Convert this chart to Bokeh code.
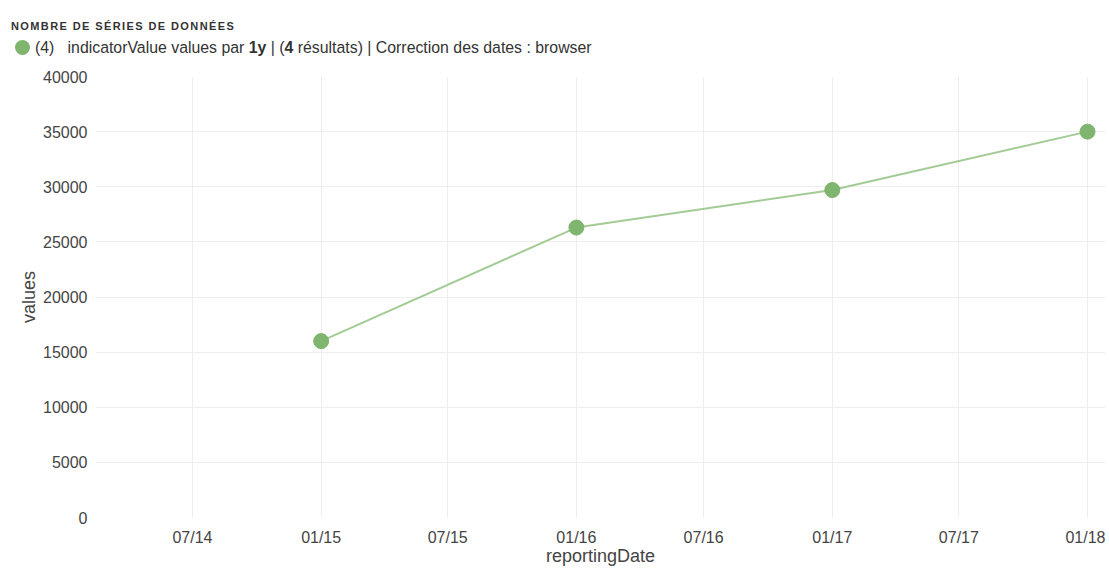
import pandas as pd
from bokeh.plotting import figure
from bokeh.layouts import column
from bokeh.models import Div, ColumnDataSource, FixedTicker, DatetimeTickFormatter, Range1d
from bokeh.embed import file_html
from bokeh.resources import INLINE

# ---- data ----
dates = ["2015-01-01", "2016-01-01", "2017-01-01", "2018-01-01"]
values = [16000, 26300, 29700, 35000]
y_ticks = [0, 5000, 10000, 15000, 20000, 25000, 30000, 35000, 40000]
x_tick_dates = ["2014-07-01", "2015-01-01", "2015-07-01", "2016-01-01",
                "2016-07-01", "2017-01-01", "2017-07-01", "2018-01-01"]

title_text = "NOMBRE DE SÉRIES DE DONNÉES"
series_color = "#7fb56e"
line_color = "#a3cb95"

FONT = "'Liberation Sans', Arial, sans-serif"

header_html = f"""
<div style="position:relative;width:1105px;height:62px;font-family:{FONT};color:#333;margin:0;padding:0;">
  <div style="position:absolute;left:11px;top:20px;font-size:11px;line-height:13px;font-weight:bold;letter-spacing:1.4px;color:#333;white-space:nowrap;">{title_text}</div>
  <div style="position:absolute;left:15px;top:39px;font-size:15.85px;line-height:18px;color:#333;white-space:nowrap;"><span style="display:inline-block;width:15px;height:15px;border-radius:50%;background:{series_color};vertical-align:-2px;"></span><span style="margin-left:5px;">(4)&nbsp;&nbsp;&nbsp;indicatorValue values par <b>1y</b> | (<b>4</b> résultats) | Correction des dates : browser</span></div>
</div>
"""
header = Div(text=header_html, width=1105, height=62, margin=0)

x_dt = pd.to_datetime(dates)
src = ColumnDataSource(dict(x=x_dt, y=values))

ref = pd.Timestamp("2015-01-01")
x_start = ref - pd.Timedelta(days=322.7)
x_end = pd.Timestamp("2018-01-01") + pd.Timedelta(days=25.7)

p = figure(width=1105, height=506, x_axis_type="datetime",
           output_backend="svg", toolbar_location=None,
           x_range=Range1d(x_start, x_end), y_range=Range1d(0, 40000),
           min_border_left=95, min_border_right=0, min_border_top=14, min_border_bottom=50,
           margin=0)
p.outline_line_color = None
p.background_fill_color = "white"
p.border_fill_color = "white"

p.line("x", "y", source=src, line_color=line_color, line_width=2)
p.scatter("x", "y", source=src, size=15, fill_color=series_color, line_color=series_color)

p.xaxis.ticker = FixedTicker(ticks=[pd.Timestamp(d).value // 10**6 for d in x_tick_dates])
fmt = "%m/%y"
p.xaxis.formatter = DatetimeTickFormatter(days=fmt, months=fmt, years=fmt, hours=fmt,
                                          minutes=fmt, seconds=fmt, milliseconds=fmt,
                                          microseconds=fmt, hourmin=fmt, minsec=fmt)
p.yaxis.ticker = FixedTicker(ticks=y_ticks)

for ax in (p.xaxis, p.yaxis):
    ax.axis_line_color = None
    ax.major_tick_line_color = None
    ax.minor_tick_line_color = None
    ax.major_tick_out = 0
    ax.major_tick_in = 0
    ax.minor_tick_out = 0
    ax.minor_tick_in = 0
    ax.major_label_text_font = "Liberation Sans"
    ax.major_label_text_font_size = "16px"
    ax.major_label_text_color = "#444444"
    ax.axis_label_text_font = "Liberation Sans"
    ax.axis_label_text_font_size = "18px"
    ax.axis_label_text_font_style = "normal"
    ax.axis_label_text_color = "#444444"

p.xaxis.axis_label = "reportingDate"
p.yaxis.axis_label = "values"
p.xaxis.major_label_standoff = 11
p.yaxis.major_label_standoff = 8
p.xaxis.axis_label_standoff = -3
p.yaxis.axis_label_standoff = 1

p.xgrid.grid_line_color = "#eeeeee"
p.ygrid.grid_line_color = "#eeeeee"

layout = column(header, p, spacing=0)
open("out.html", "w").write(file_html(layout, INLINE))
